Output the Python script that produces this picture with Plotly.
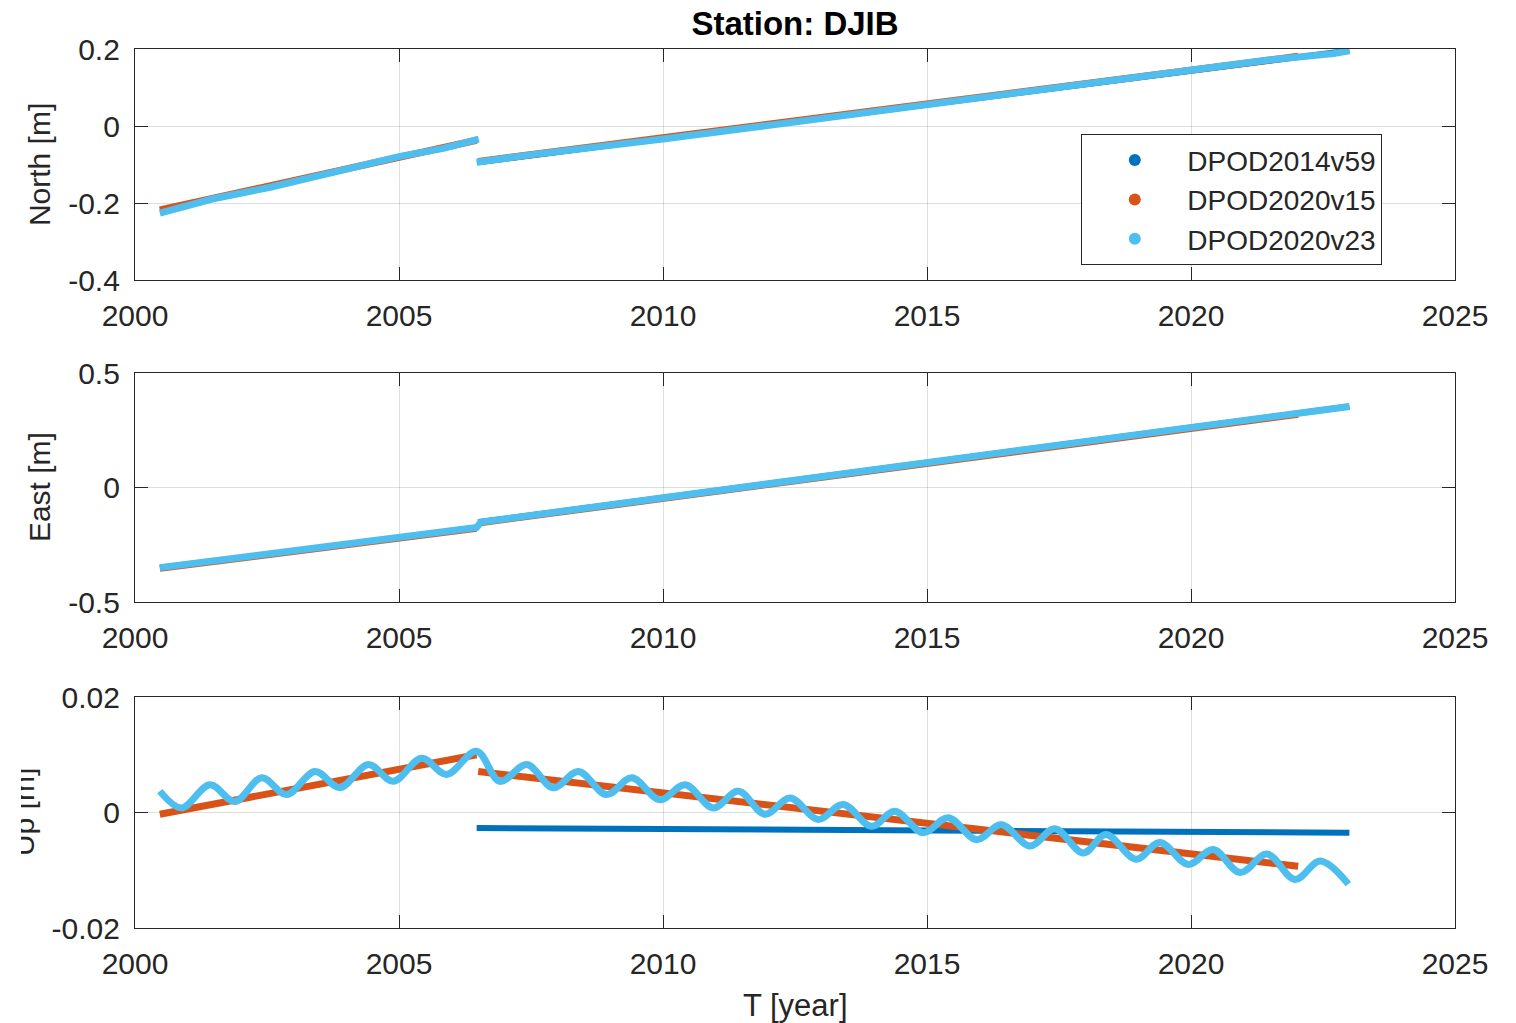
import plotly.graph_objects as go

# ---------------- data ----------------
series_names = ["DPOD2014v59", "DPOD2020v15", "DPOD2020v23"]
series_colors = ["#0072BD", "#D95319", "#4DBEEE"]

# North [m]
north_t_14v59 = [2006.50, 2015.00, 2023.00]
north_v_14v59 = [-0.094, 0.055, 0.196]
north_t_20v15 = [2000.47, 2006.47, None, 2006.50, 2022.03]
north_v_20v15 = [-0.218, -0.037, None, -0.092, 0.181]
north_t_20v23 = [2000.47, 2001.48, 2002.56, 2003.44, 2004.33, 2005.02, 2005.84, 2006.51, None,
                 2006.47, 2007.48, 2010.00, 2013.00, 2015.00, 2017.50, 2020.00, 2021.50, 2022.70, 2023.00]
north_v_20v23 = [-0.226, -0.189, -0.159, -0.131, -0.103, -0.079, -0.058, -0.034, None,
                 -0.094, -0.075, -0.034, 0.019, 0.055, 0.098, 0.145, 0.172, 0.188, 0.195]

# East [m]
east_t_14v59 = [2006.50, 2015.00, 2023.00]
east_v_14v59 = [-0.152, 0.108, 0.354]
east_t_20v15 = [2000.47, 2006.47, None, 2006.50, 2022.03]
east_v_20v15 = [-0.353, -0.178, None, -0.155, 0.320]
east_t_20v23 = [2000.47, 2003.50, 2006.47, 2006.55, 2010.00, 2015.00, 2020.00, 2023.00]
east_v_20v23 = [-0.350, -0.262, -0.175, -0.151, -0.044, 0.110, 0.265, 0.354]

# Up [m]
up_t_14v59 = [2006.47, 2015.00, 2023.00]
up_v_14v59 = [-0.0027, -0.0031, -0.0035]
up_t_20v15 = [2000.47, 2006.47, None, 2006.50, 2015.00, 2022.03]
up_v_20v15 = [-0.0003, 0.0100, None, 0.0071, -0.0019, -0.0093]
up_t_20v23 = [2000.47, 2000.88, 2001.42, 2001.89, 2002.40, 2002.87, 2003.41, 2003.88, 2004.42,
              2004.89, 2005.43, 2005.90, 2006.47, 2006.91, 2007.42, 2007.92, 2008.40, 2008.93,
              2009.41, 2009.94, 2010.42, 2010.95, 2011.43, 2011.93, 2012.41, 2012.94, 2013.41,
              2013.95, 2014.39, 2014.93, 2015.40, 2015.94, 2016.41, 2016.95, 2017.42, 2017.96,
              2018.39, 2018.96, 2019.41, 2019.95, 2020.42, 2020.93, 2021.44, 2021.97, 2022.45,
              2022.98]
up_v_20v23 = [0.0037, 0.0008, 0.0048, 0.0019, 0.0060, 0.0031, 0.0071, 0.0043, 0.0083,
              0.0054, 0.0094, 0.0066, 0.0106, 0.0054, 0.0083, 0.0043, 0.0071, 0.0031,
              0.0060, 0.0022, 0.0048, 0.0008, 0.0037, -0.0003, 0.0025, -0.0012, 0.0014,
              -0.0024, 0.0002, -0.0035, -0.0009, -0.0047, -0.0021, -0.0058, -0.0028, -0.0070,
              -0.0038, -0.0081, -0.0052, -0.0090, -0.0064, -0.0104, -0.0072, -0.0116, -0.0084,
              -0.0124]

x_ticks = [2000, 2005, 2010, 2015, 2020, 2025]
x_ticktext = ["2000", "2005", "2010", "2015", "2020", "2025"]
north_ticks = [-0.4, -0.2, 0, 0.2]
north_ticktext = ["-0.4", "-0.2", "0", "0.2"]
east_ticks = [-0.5, 0, 0.5]
east_ticktext = ["-0.5", "0", "0.5"]
up_ticks = [-0.02, 0, 0.02]
up_ticktext = ["-0.02", "0", "0.02"]

title_text = "Station: DJIB"
ylabels = ["North [m]", "East [m]", "Up [m]"]
xlabel = "T [year]"

# ---------------- figure ----------------
W, H = 1516, 1023
ML, MR, MT, MB = 135, 61, 49, 95
PW, PH = W - ML - MR, H - MT - MB


def ydom(top_px, bot_px):
    return [(H - MB - bot_px) / PH, (H - MB - top_px) / PH]


def px_x(px):
    return (px - ML) / PW


def px_y(py):
    return (H - MB - py) / PH


fig = go.Figure()

panels = [
    ("x", "y", [(north_t_14v59, north_v_14v59), (north_t_20v15, north_v_20v15), (north_t_20v23, north_v_20v23)], False),
    ("x2", "y2", [(east_t_14v59, east_v_14v59), (east_t_20v15, east_v_20v15), (east_t_20v23, east_v_20v23)], False),
    ("x3", "y3", [(up_t_14v59, up_v_14v59), (up_t_20v15, up_v_20v15), (up_t_20v23, up_v_20v23)], True),
]
widths = [6, 7, 7]
for xa, ya, data, smooth in panels:
    for i, (t, v) in enumerate(data):
        fig.add_trace(go.Scatter(
            x=t, y=v, xaxis=xa, yaxis=ya, mode="lines",
            line=dict(color=series_colors[i], width=widths[i],
                      shape="spline" if (i == 2 and smooth) else "linear"),
            connectgaps=False, showlegend=False, hoverinfo="skip"))

# legend entries (dots)
for i, name in enumerate(series_names):
    fig.add_trace(go.Scatter(x=[None], y=[None], xaxis="x", yaxis="y", mode="markers",
                             marker=dict(color=series_colors[i], size=12),
                             name=name, showlegend=True))

font_family = "Liberation Sans, Arial, Helvetica, sans-serif"
axis_color = "#262626"
grid_color = "rgba(38,38,38,0.15)"

common_x = dict(range=[2000, 2025], tickvals=x_ticks, ticktext=x_ticktext,
                showgrid=True, gridcolor=grid_color, gridwidth=1,
                showline=True, linecolor=axis_color, linewidth=1.3, mirror="allticks",
                ticks="inside", ticklen=13, tickwidth=1.3, tickcolor=axis_color,
                tickfont=dict(family=font_family, size=30, color=axis_color),
                zeroline=False, ticklabelstandoff=9)
common_y = dict(showgrid=True, gridcolor=grid_color, gridwidth=1,
                showline=True, linecolor=axis_color, linewidth=1.3, mirror="allticks",
                ticks="inside", ticklen=13, tickwidth=1.3, tickcolor=axis_color,
                tickfont=dict(family=font_family, size=30, color=axis_color),
                zeroline=False, ticklabelstandoff=8)

fig.update_layout(
    width=W, height=H,
    margin=dict(l=ML, r=MR, t=MT, b=MB),
    paper_bgcolor="white", plot_bgcolor="white",
    font=dict(family=font_family, color=axis_color),
    title=dict(text="<b>" + title_text + "</b>", x=(ML + PW / 2) / W, xanchor="center",
               y=1 - 23 / H, yanchor="middle", yref="container",
               font=dict(family=font_family, size=33, color="black")),
    xaxis=dict(common_x, anchor="y"),
    xaxis2=dict(common_x, anchor="y2"),
    xaxis3=dict(common_x, anchor="y3"),
    yaxis=dict(common_y, anchor="x", domain=ydom(49, 280), range=[-0.4, 0.2],
               tickvals=north_ticks, ticktext=north_ticktext),
    yaxis2=dict(common_y, anchor="x2", domain=ydom(373, 602), range=[-0.5, 0.5],
                tickvals=east_ticks, ticktext=east_ticktext),
    yaxis3=dict(common_y, anchor="x3", domain=ydom(697, 928), range=[-0.02, 0.02],
                tickvals=up_ticks, ticktext=up_ticktext),
    legend=dict(x=px_x(1081), y=px_y(134), xanchor="left", yanchor="top",
                bgcolor="white", bordercolor=axis_color, borderwidth=1.3,
                font=dict(family=font_family, size=28, color=axis_color),
                itemwidth=95),
    showlegend=True,
)

annotations = [
    dict(text=ylabels[0], x=px_x(39.6), xref="paper", y=0.5, yref="y domain",
         textangle=-90, showarrow=False, xanchor="center", yanchor="middle",
         font=dict(family=font_family, size=30, color=axis_color)),
    dict(text=ylabels[1], x=px_x(39.6), xref="paper", y=0.5, yref="y2 domain",
         textangle=-90, showarrow=False, xanchor="center", yanchor="middle",
         font=dict(family=font_family, size=30, color=axis_color)),
    dict(text=ylabels[2], x=px_x(23.6), xref="paper", y=0.5, yref="y3 domain",
         textangle=-90, showarrow=False, xanchor="center", yanchor="middle",
         font=dict(family=font_family, size=30, color=axis_color)),
    # white strip reproducing the reference's clipping of the Up label at the left edge
    dict(text=" ", x=px_x(-2), xref="paper", y=0.5, yref="y3 domain",
         showarrow=False, xanchor="left", yanchor="middle", width=23, height=150,
         bgcolor="white", borderpad=0, borderwidth=0),
    dict(text=xlabel, x=0.5, xref="paper", y=px_y(1005), yref="paper",
         showarrow=False, xanchor="center", yanchor="middle",
         font=dict(family=font_family, size=31, color=axis_color)),
]
fig.update_layout(annotations=annotations)

# the page body would otherwise add an 8px margin around the figure
fig.write_html("out.html", config={"displayModeBar": False},
               post_script="document.body.style.margin='0';")
